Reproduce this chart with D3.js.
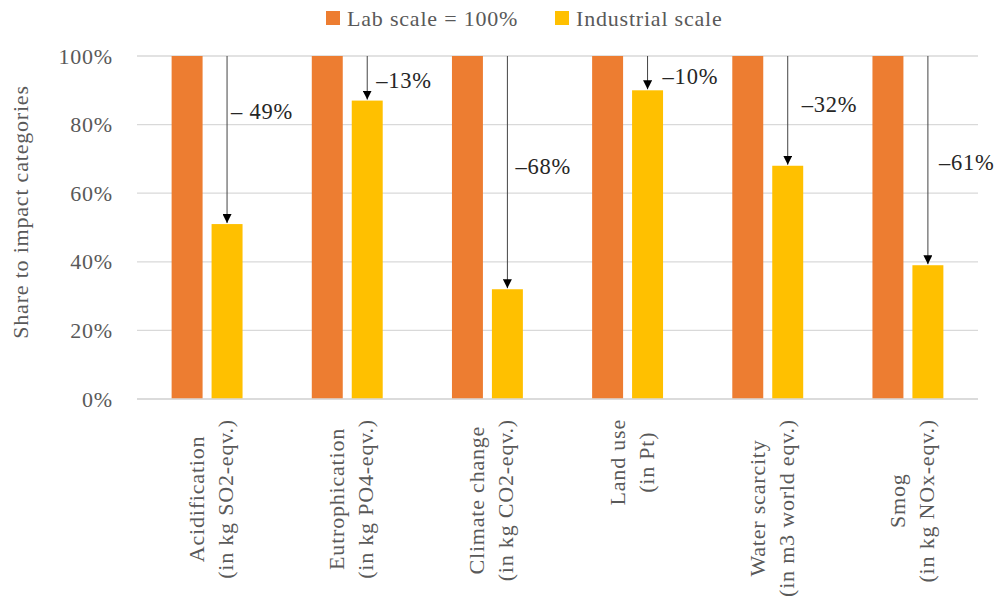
<!DOCTYPE html>
<html>
<head>
<meta charset="utf-8">
<script src="https://cdn.jsdelivr.net/npm/d3@7"></script>
<style>
  html, body { margin: 0; padding: 0; background: #fff; }
  svg { display: block; font-family: "Liberation Serif", "DejaVu Serif", serif; }
  text { letter-spacing: 0.8px; }
</style>
</head>
<body>
<svg id="chart" width="1006" height="608"></svg>
<script>
// Impact categories (two-line axis labels)
const categories = [
  ["Acidification", "(in kg SO2-eqv.)"],
  ["Eutrophication", "(in kg PO4-eqv.)"],
  ["Climate change", "(in kg CO2-eqv.)"],
  ["Land use", "(in Pt)"],
  ["Water scarcity", "(in m3 world eqv.)"],
  ["Smog", "(in kg NOx-eqv.)"]
];
const seriesNames = ["Lab scale = 100%", "Industrial scale"];
const labScale = [100, 100, 100, 100, 100, 100];
const industrialScale = [51, 87, 32, 90, 68, 39];
const changeLabels = ["\u2013 49%", "\u201313%", "\u201368%", "\u201310%", "\u201332%", "\u201361%"];
const yTicks = [0, 20, 40, 60, 80, 100];

const colors = ["#ED7D31", "#FFC000"];
const textGray = "#595959";
const gridGray = "#D9D9D9";
const fs = 22;

const svg = d3.select("#chart");
const margin = { left: 137, right: 28, top: 56, bottom: 209 };
const W = 1006, H = 608;
const plotW = W - margin.left - margin.right;
const plotH = H - margin.top - margin.bottom;

const g = svg.append("g").attr("transform", `translate(${margin.left},${margin.top})`);

const x = d3.scaleBand().domain(d3.range(categories.length)).range([0, plotW])
  .paddingInner(0.494).paddingOuter(0.247);
const xSub = d3.scaleBand().domain([0, 1]).range([0, x.bandwidth()]).paddingInner(0.225);
const y = d3.scaleLinear().domain([0, 100]).range([plotH, 0]);

// Horizontal gridlines
g.append("g").selectAll("line").data(yTicks).join("line")
  .attr("x1", 0).attr("x2", plotW)
  .attr("y1", d => y(d)).attr("y2", d => y(d))
  .attr("stroke", gridGray).attr("stroke-width", 1.3);

// Y axis labels
const yAxis = g.append("g").call(d3.axisLeft(y).tickValues(yTicks).tickFormat(d => d + "%").tickSize(0).tickPadding(24));
yAxis.select(".domain").remove();
yAxis.selectAll("text").attr("font-size", fs).attr("fill", textGray)
  .attr("font-family", "Liberation Serif, serif");

// Y axis title
svg.append("text")
  .attr("transform", `translate(28,212) rotate(-90)`)
  .attr("text-anchor", "middle")
  .attr("font-size", fs).attr("fill", textGray)
  .text("Share to impact categories");

// Bars
const series = [labScale, industrialScale];
series.forEach((vals, s) => {
  g.append("g").selectAll("rect").data(vals).join("rect")
    .attr("x", (d, i) => x(i) + xSub(s))
    .attr("width", xSub.bandwidth())
    .attr("y", d => y(d))
    .attr("height", d => plotH - y(d))
    .attr("fill", colors[s]);
});

// Reduction arrows from 100% down to the industrial bar
svg.append("defs").append("marker")
  .attr("id", "arrowHead").attr("viewBox", "0 0 10 10")
  .attr("refX", 10).attr("refY", 5)
  .attr("markerWidth", 9).attr("markerHeight", 9)
  .attr("markerUnits", "userSpaceOnUse")
  .attr("orient", "auto")
  .append("path").attr("d", "M0,0 L10,5 L0,10 Z").attr("fill", "#000");

const arrowX = i => x(i) + xSub(1) + xSub.bandwidth() / 2;
g.append("g").selectAll("line").data(industrialScale).join("line")
  .attr("x1", (d, i) => arrowX(i)).attr("x2", (d, i) => arrowX(i))
  .attr("y1", y(100)).attr("y2", d => y(d) - 1)
  .attr("stroke", "#444").attr("stroke-width", 1)
  .attr("marker-end", "url(#arrowHead)");

// Change labels next to each arrow (level in % units, horizontal gap in px)
const noteLevel = [84, 93, 68, 94, 86, 69];
const noteGap = [4, 9, 8, 15, 14, 11];
g.append("g").selectAll("text").data(changeLabels).join("text")
  .attr("x", (d, i) => arrowX(i) + noteGap[i])
  .attr("y", (d, i) => y(noteLevel[i]))
  .attr("dy", "0.35em")
  .attr("font-size", 22.5).attr("fill", "#262626")
  .text(d => d);

// Axis baseline
g.append("line").attr("x1", 0).attr("x2", plotW).attr("y1", plotH).attr("y2", plotH)
  .attr("stroke", gridGray).attr("stroke-width", 1.3);

// Rotated two-line category labels, centred lines, block starting just below the axis
const labelTop = plotH + 20;
categories.forEach((lines, i) => {
  const cx = x(i) + x.bandwidth() / 2;
  const grp = g.append("g");
  const texts = lines.map((t, k) => grp.append("text")
    .attr("font-size", fs).attr("fill", textGray)
    .attr("text-anchor", "middle").text(t));
  const maxLen = d3.max(texts, t => t.node().getComputedTextLength());
  const baseOffsets = [-3, 26];
  texts.forEach((t, k) => {
    t.attr("transform", `translate(${cx + baseOffsets[k]},${labelTop + maxLen / 2}) rotate(-90)`);
  });
});

// Legend
const legendItems = [
  { name: seriesNames[0], color: colors[0], x: 326 },
  { name: seriesNames[1], color: colors[1], x: 555 }
];
const lg = svg.append("g");
legendItems.forEach(it => {
  lg.append("rect").attr("x", it.x).attr("y", 11).attr("width", 14).attr("height", 14).attr("fill", it.color);
  lg.append("text").attr("x", it.x + 21).attr("y", 18).attr("dy", "0.35em")
    .attr("font-size", fs).attr("fill", textGray).text(it.name);
});
</script>
</body>
</html>
